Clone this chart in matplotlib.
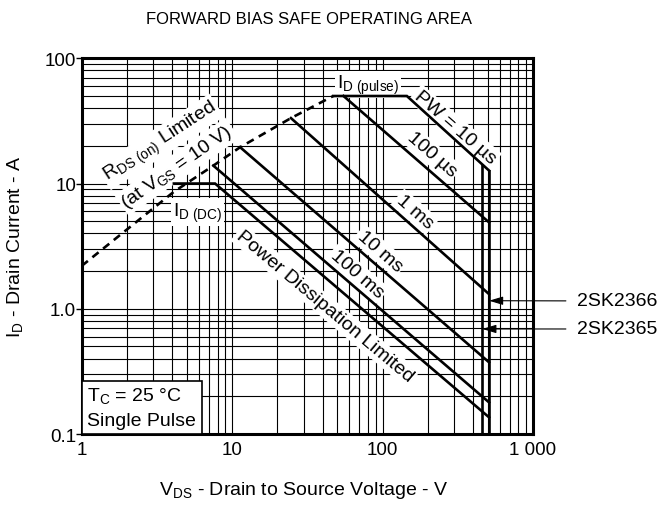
import matplotlib
matplotlib.use("Agg")
import matplotlib.pyplot as plt
from matplotlib import font_manager
from matplotlib.patches import Rectangle

plt.rcParams['font.family'] = ['Liberation Sans', 'DejaVu Sans']
plt.rcParams['mathtext.fontset'] = 'custom'
plt.rcParams['mathtext.rm'] = 'Liberation Sans'
plt.rcParams['mathtext.it'] = 'Liberation Sans'

# data (VDS in V, ID in A)
rds_v = [1, 2, 4.1, 7.5, 11.3, 24.6, 47]
rds_i = [2.2, 4.3, 8.6, 13.9, 19.5, 33.3, 50]

pw10us_v = [47, 145, 510]
pw10us_i = [50, 50, 12.7]
pw100us_v = [55, 510]
pw100us_i = [50, 4.9]
pw1ms_v = [24.6, 510]
pw1ms_i = [33.3, 1.31]
pw10ms_v = [11.3, 510]
pw10ms_i = [19.5, 0.374]
pw100ms_v = [7.5, 510]
pw100ms_i = [13.9, 0.179]
dc_v = [4.1, 7.7, 510]
dc_i = [10, 10, 0.136]

# VDSS limits of the two parts
vdss_2sk2365 = 460
vdss_2sk2366 = 510
vdss_top_2sk2365 = 14
vdss_top_2sk2366 = 12.7

x_ticks = [1, 10, 100, 1000]
x_labels = ['1', '10', '100', '1 000']
y_ticks = [0.1, 1, 10, 100]
y_labels = ['0.1', '1.0', '10', '100']

fig = plt.figure(figsize=(6.6, 5.06), dpi=100)
ax = fig.add_axes([0.1238, 0.1403, 0.6838, 0.7425])
ax.set_xscale('log')
ax.set_yscale('log')
ax.set_xlim(1, 1000)
ax.set_ylim(0.1, 100)

ax.set_axisbelow(True)
ax.grid(which='both', color='black', lw=0.8)
for s in ax.spines.values():
    s.set_linewidth(2.2)

ax.set_xticks(x_ticks)
ax.set_xticklabels(x_labels, fontsize=13.5)
ax.set_yticks(y_ticks)
ax.set_yticklabels(y_labels, fontsize=13.5)
ax.tick_params(axis='x', which='both', length=0, pad=5)
ax.tick_params(axis='y', which='major', length=4, width=1, pad=0)
ax.tick_params(axis='y', which='minor', length=0)

lw = 1.9
ax.plot(rds_v, rds_i, color='black', lw=lw, linestyle=(0, (3, 2.2)), zorder=4)
for v, i in [(pw10us_v, pw10us_i), (pw100us_v, pw100us_i), (pw1ms_v, pw1ms_i),
             (pw10ms_v, pw10ms_i), (pw100ms_v, pw100ms_i), (dc_v, dc_i)]:
    ax.plot(v, i, color='black', lw=lw, solid_joinstyle='miter', zorder=4)
ax.plot([vdss_2sk2365, vdss_2sk2365], [vdss_top_2sk2365, 0.1], color='black', lw=lw, zorder=4)
ax.plot([vdss_2sk2366, vdss_2sk2366], [vdss_top_2sk2366, 0.1], color='black', lw=lw, zorder=4)

box = dict(facecolor='white', edgecolor='none', pad=1.5)
kw = dict(fontsize=14, ha='center', va='center', rotation_mode='anchor', bbox=box, zorder=3)
ax.text(3.32, 21.5, r'R$_{\mathrm{DS\ (on)}}$ Limited', rotation=33, **kw)
ax.text(4.3, 13.6, r'(at V$_{\mathrm{GS}}$ = 10 V)', rotation=35, **kw)
ax.text(5.9, 5.9, r'I$_{\mathrm{D\ (DC)}}$', **kw)
ax.text(80, 62, r'I$_{\mathrm{D\ (pulse)}}$', **kw)
ax.text(303, 28.3, 'PW = 10 µs', rotation=-41, **kw)
ax.text(213, 17.2, '100 µs', rotation=-41, **kw)
ax.text(164, 5.93, '1 ms', rotation=-41, **kw)
ax.text(96, 2.89, '10 ms', rotation=-41, **kw)
ax.text(67.7, 1.9, '100 ms', rotation=-41, **kw)
ax.text(41.5, 1.05, 'Power Dissipation Limited', rotation=-40, **kw)

# condition box in lower left
ax.add_patch(Rectangle((0, 0), 0.2666, 0.14, transform=ax.transAxes,
                       facecolor='white', edgecolor='black', lw=1.2, zorder=3))
ax.text(0.012, 0.103, r'T$_{\mathrm{C}}$ = 25 °C', transform=ax.transAxes,
        fontsize=14, va='center', ha='left', zorder=5)
ax.text(0.012, 0.036, 'Single Pulse', transform=ax.transAxes,
        fontsize=14, va='center', ha='left', zorder=5)

arrow = dict(arrowstyle='-|>,head_length=0.6,head_width=0.18', color='black',
             lw=0.8, shrinkA=6, shrinkB=0, mutation_scale=14)
ax.annotate('2SK2366', xy=(vdss_2sk2366, 1.16), xytext=(577, 204),
            textcoords='figure pixels', fontsize=14, ha='left', va='center',
            arrowprops=arrow, annotation_clip=False, zorder=6)
ax.annotate('2SK2365', xy=(vdss_2sk2365, 0.69), xytext=(577, 176),
            textcoords='figure pixels', fontsize=14, ha='left', va='center',
            arrowprops=arrow, annotation_clip=False, zorder=6)

# title is set in a narrow face in the original
names = {f.name for f in font_manager.fontManager.ttflist}
if 'Liberation Sans Narrow' in names:
    ax_title_font = dict(family='Liberation Sans Narrow', fontsize=14)
else:
    ax_title_font = dict(family='Liberation Sans', fontsize=12)
fig.text(309 / 660, 1 - 19 / 506, 'FORWARD BIAS SAFE OPERATING AREA',
         ha='center', va='center', **ax_title_font)
fig.text(304 / 660, 1 - 491 / 506, r'V$_{\mathrm{DS}}$ - Drain to Source Voltage - V',
         fontsize=14, ha='center', va='center')
fig.text(15 / 660, 1 - 247 / 506, r'I$_{\mathrm{D}}$ - Drain Current - A',
         fontsize=14, ha='center', va='center', rotation=90)

fig.savefig('out.png', dpi=100)
